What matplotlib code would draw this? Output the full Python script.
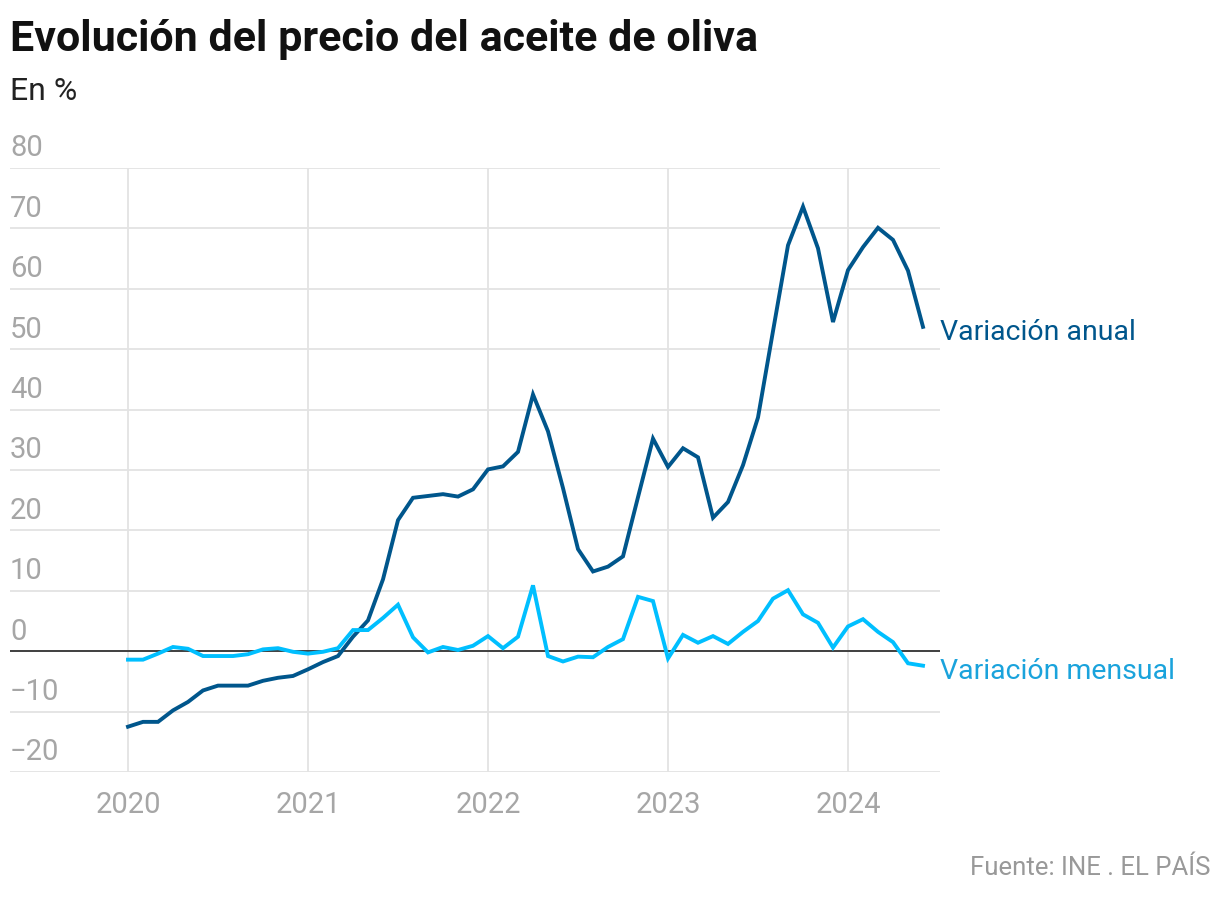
import matplotlib
matplotlib.use("Agg")
import matplotlib.pyplot as plt
from matplotlib.font_manager import fontManager

# Monthly data, Jan 2020 - Jun 2024 (in %)
annual = [
    -12.5, -11.7, -11.7, -9.8, -8.4, -6.5, -5.7, -5.7, -5.7, -4.9, -4.4, -4.1,
    -3.0, -1.8, -0.8, 2.4, 5.1, 11.9, 21.7, 25.4, 25.7, 26.0, 25.6, 26.8,
    30.1, 30.6, 33.0, 42.5, 36.4, 27.0, 16.9, 13.2, 14.0, 15.7, 25.5, 35.2,
    30.5, 33.6, 32.1, 22.1, 24.7, 30.8, 38.7, 53.0, 67.2, 73.6, 66.7, 54.5,
    63.1, 66.9, 70.1, 68.1, 63.0, 53.7,
]
monthly = [
    -1.4, -1.4, -0.4, 0.7, 0.4, -0.8, -0.8, -0.8, -0.5, 0.3, 0.5, -0.1,
    -0.4, -0.1, 0.5, 3.5, 3.5, 5.5, 7.7, 2.3, -0.2, 0.7, 0.2, 0.9,
    2.5, 0.5, 2.4, 10.9, -0.8, -1.7, -0.9, -1.0, 0.7, 2.0, 9.0, 8.3,
    -1.2, 2.7, 1.4, 2.5, 1.2, 3.2, 5.0, 8.7, 10.1, 6.1, 4.7, 0.6,
    4.1, 5.3, 3.2, 1.5, -2.0, -2.4,
]
years = ["2020", "2021", "2022", "2023", "2024"]
y_ticks = [80, 70, 60, 50, 40, 30, 20, 10, 0, -10, -20]

DARK = "#00568c"
LIGHT = "#00bfff"
LIGHT_TEXT = "#1aa3dc"
GRID = "#e3e3e3"
TICK = "#a6a6a6"

installed = {f.name for f in fontManager.ttflist}
title_font = "Liberation Sans Narrow" if "Liberation Sans Narrow" in installed else "Roboto"
plt.rcParams["font.family"] = ["Roboto", "DejaVu Sans"]

fig = plt.figure(figsize=(12.2, 8.98), dpi=100)
ax = fig.add_axes([10 / 1220, 1 - 772 / 898, 930 / 1220, 604 / 898])

x = list(range(len(annual)))
ax.set_xlim(-118 / 15, 812 / 15)
ax.set_ylim(-20, 80)

# grid
for v in y_ticks:
    ax.axhline(v, color=GRID, lw=1.3, zorder=0)
for i in range(len(years)):
    ax.axvline(i * 12, color=GRID, lw=1.3, zorder=0)
ax.axhline(0, color="#333333", lw=1.3, zorder=1)

ax.plot(x, annual, color=DARK, lw=2.8, zorder=3, solid_joinstyle="miter")
ax.plot(x, monthly, color=LIGHT, lw=2.8, zorder=3, solid_joinstyle="miter")

for s in ax.spines.values():
    s.set_visible(False)
ax.set_yticks([])
ax.set_xticks([i * 12 for i in range(len(years))])
ax.set_xticklabels(years, fontsize=21, color=TICK)
ax.tick_params(axis="x", length=0, pad=14)

# y labels sit above their gridlines
for v in y_ticks:
    ax.annotate(str(v).replace("-", "\u2212"), xy=(0, v), xycoords=("axes fraction", "data"),
                xytext=(0, 4), textcoords="offset points",
                ha="left", va="bottom", fontsize=21, color=TICK)

# end labels
ax.annotate("Variación anual", xy=(x[-1], annual[-1]), xytext=(12, -4),
            textcoords="offset points", va="center", ha="left",
            fontsize=20.5, color=DARK, annotation_clip=False)
ax.annotate("Variación mensual", xy=(x[-1], monthly[-1]), xytext=(12, -4),
            textcoords="offset points", va="center", ha="left",
            fontsize=20.5, color=LIGHT_TEXT, annotation_clip=False)

fig.text(10 / 1220, 1 - 40 / 898, "Evolución del precio del aceite de oliva",
         fontsize=31, fontweight="bold", family=[title_font, "DejaVu Sans"],
         color="#111111", va="center", ha="left")
fig.text(10 / 1220, 1 - 92 / 898, "En %", fontsize=23, color="#222222",
         va="center", ha="left")
fig.text(1210 / 1220, 1 - 868 / 898, "Fuente: INE . EL PAÍS", fontsize=18.5,
         color="#999999", va="center", ha="right")

fig.savefig("out.png", dpi=100, facecolor="white")
